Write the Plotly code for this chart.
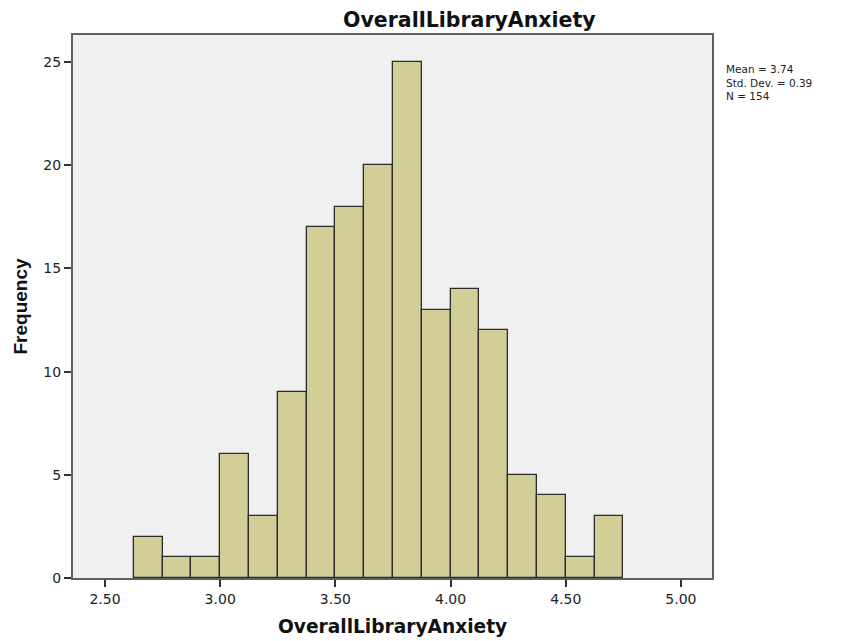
import plotly.graph_objects as go

bin_width = 0.125
bin_starts = [2.625, 2.75, 2.875, 3.0, 3.125, 3.25, 3.375, 3.5, 3.625, 3.75,
              3.875, 4.0, 4.125, 4.25, 4.375, 4.5, 4.625]
counts = [2, 1, 1, 6, 3, 9, 17, 18, 20, 25, 13, 14, 12, 5, 4, 1, 3]
x_ticks = [2.5, 3.0, 3.5, 4.0, 4.5, 5.0]
x_tick_labels = ["2.50", "3.00", "3.50", "4.00", "4.50", "5.00"]
y_ticks = [0, 5, 10, 15, 20, 25]
stats_lines = ["Mean = 3.74", "Std. Dev. = 0.39", "N = 154"]
title_text = "OverallLibraryAnxiety"
x_title = "OverallLibraryAnxiety"
y_title = "Frequency"

centers = [s + bin_width / 2 for s in bin_starts]

fig = go.Figure()
fig.add_trace(go.Bar(
    x=centers, y=counts, width=[bin_width] * len(counts),
    marker=dict(color="#D3CE97", line=dict(color="#2b2b2b", width=1.3)),
    hoverinfo="x+y",
))

dv = "DejaVu Sans, Verdana, sans-serif"
lib = "Liberation Sans, Arial, sans-serif"
# page body has an 8px default margin, so plot area offsets are reduced by 8
fig.update_layout(
    width=844, height=641,
    margin=dict(l=65, r=140, t=27, b=71, autoexpand=False),
    paper_bgcolor="white", plot_bgcolor="#F0F0F0",
    showlegend=False, bargap=0,
    font=dict(family=dv, color="#222"),
)
axis_common = dict(
    ticks="outside", ticklen=7, tickcolor="#333", tickwidth=1.5,
    tickfont=dict(family=dv, size=14, color="#222"),
    showgrid=False, zeroline=False, automargin=False,
    showline=True, linecolor="#606060", linewidth=2, mirror=True,
)
fig.update_xaxes(range=[2.361, 5.135], tickvals=x_ticks, ticktext=x_tick_labels, **axis_common)
fig.update_yaxes(range=[0, 26.31], tickvals=y_ticks, **axis_common)

# Title (centered over the chart incl. the stats panel)
fig.add_annotation(text="<b>%s</b>" % title_text, xref="paper", yref="paper",
                   x=0.6205, y=1.0276, xanchor="center", yanchor="middle",
                   showarrow=False, font=dict(family=dv, size=20.5, color="#111"))
# Axis titles
fig.add_annotation(text="<b>%s</b>" % x_title, xref="paper", yref="paper",
                   x=0.5, y=-0.0902, xanchor="center", yanchor="middle",
                   showarrow=False, font=dict(family=dv, size=18.6, color="#111"))
fig.add_annotation(text="<b>%s</b>" % y_title, xref="paper", yref="paper",
                   x=(20 - 73) / 639, y=0.5, xanchor="center", yanchor="middle",
                   textangle=-90, showarrow=False,
                   font=dict(family=lib, size=19, color="#111"))
# Stats panel
fig.add_annotation(text="<br>".join(stats_lines), xref="paper", yref="paper",
                   x=(724 - 73) / 639, y=(578 - 82) / 543,
                   xanchor="left", yanchor="middle", align="left", showarrow=False,
                   font=dict(family=dv, size=10.5, color="#222"))

fig.write_html("out.html")
